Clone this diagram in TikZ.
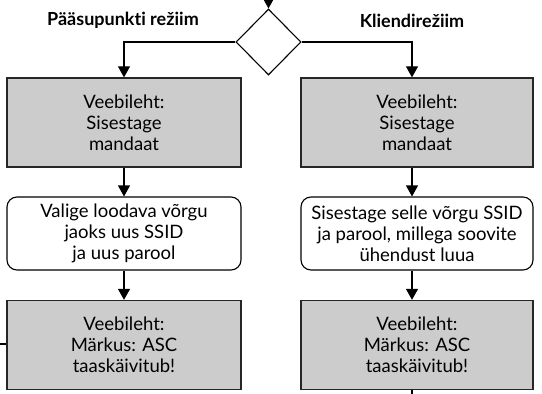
\documentclass[tikz,border=0pt]{standalone}
\usepackage{fontspec}
\setmainfont{Lato}[Ligatures={NoCommon}]
\usetikzlibrary{arrows.meta,shapes.geometric}
\definecolor{boxgray}{HTML}{CCCCCC}
\tikzset{
  x=1pt,y=1pt,
  graybox/.style={draw=black!85,line width=1.3pt,fill=boxgray,minimum width=234pt,minimum height=89pt,align=center,inner sep=0pt,font=\fontsize{18.5}{21}\selectfont},
  roundbox/.style={draw=black,line width=1.1pt,fill=white,rounded corners=10pt,minimum width=234pt,minimum height=73pt,align=center,inner sep=0pt,font=\fontsize{18.5}{21}\selectfont},
  decide/.style={draw=black,line width=1.1pt,diamond,minimum width=65pt,minimum height=66pt,inner sep=0pt},
  conn/.style={line width=1.1pt,-{Triangle[width=12pt,length=11pt]}},
  plain/.style={line width=1.1pt},
  modelabel/.style={font=\fontsize{18}{20}\selectfont\bfseries}
}
\begin{document}
\begin{tikzpicture}
\useasboundingbox (0,0) rectangle (542,-394);
\coordinate (topin) at (268.5,0);
\node[decide] (dec) at (268.5,-42) {};
\node[graybox] (l1) at (124,-122.5) {Veebileht:\\Sisestage\\mandaat};
\node[graybox,minimum width=232pt] (r1) at (417,-122.5) {Veebileht:\\Sisestage\\mandaat};
\node[roundbox] (l2) at (124,-233.5) {Valige loodava võrgu\\jaoks uus SSID\\ja uus parool};
\node[roundbox,minimum width=232pt] (r2) at (417,-233.5) {Sisestage selle võrgu SSID\\ja parool, millega soovite\\ühendust luua};
\node[graybox] (l3) at (124,-345) {Veebileht:\\Märkus: ASC\\taaskäivitub!};
\node[graybox,minimum width=232pt] (r3) at (417,-345) {Veebileht:\\Märkus: ASC\\taaskäivitub!};
\node[modelabel] (lab1) at (123,-20.5) {Pääsupunkti režiim};
\node[modelabel] (lab2) at (412,-20.5) {Kliendirežiim};
\coordinate (lstub) at (0,-344);
\coordinate (rstub) at (412,-394);
\draw[conn] (topin) -- (dec.north);
\draw[conn] (dec.west) -| (l1.north);
\draw[conn] (dec.east) -| ([xshift=-5pt]r1.north);
\draw[conn] (l1) -- (l2);
\draw[conn] ([xshift=-5pt]r1.south) -- ([xshift=-5pt]r2.north);
\draw[conn] (l2) -- (l3);
\draw[conn] ([xshift=-5pt]r2.south) -- ([xshift=-5pt]r3.north);
\draw[plain] (lstub) -- (l3.west |- lstub);
\draw[plain] ([xshift=-5pt]r3.south) -- (rstub);
\end{tikzpicture}
\end{document}
